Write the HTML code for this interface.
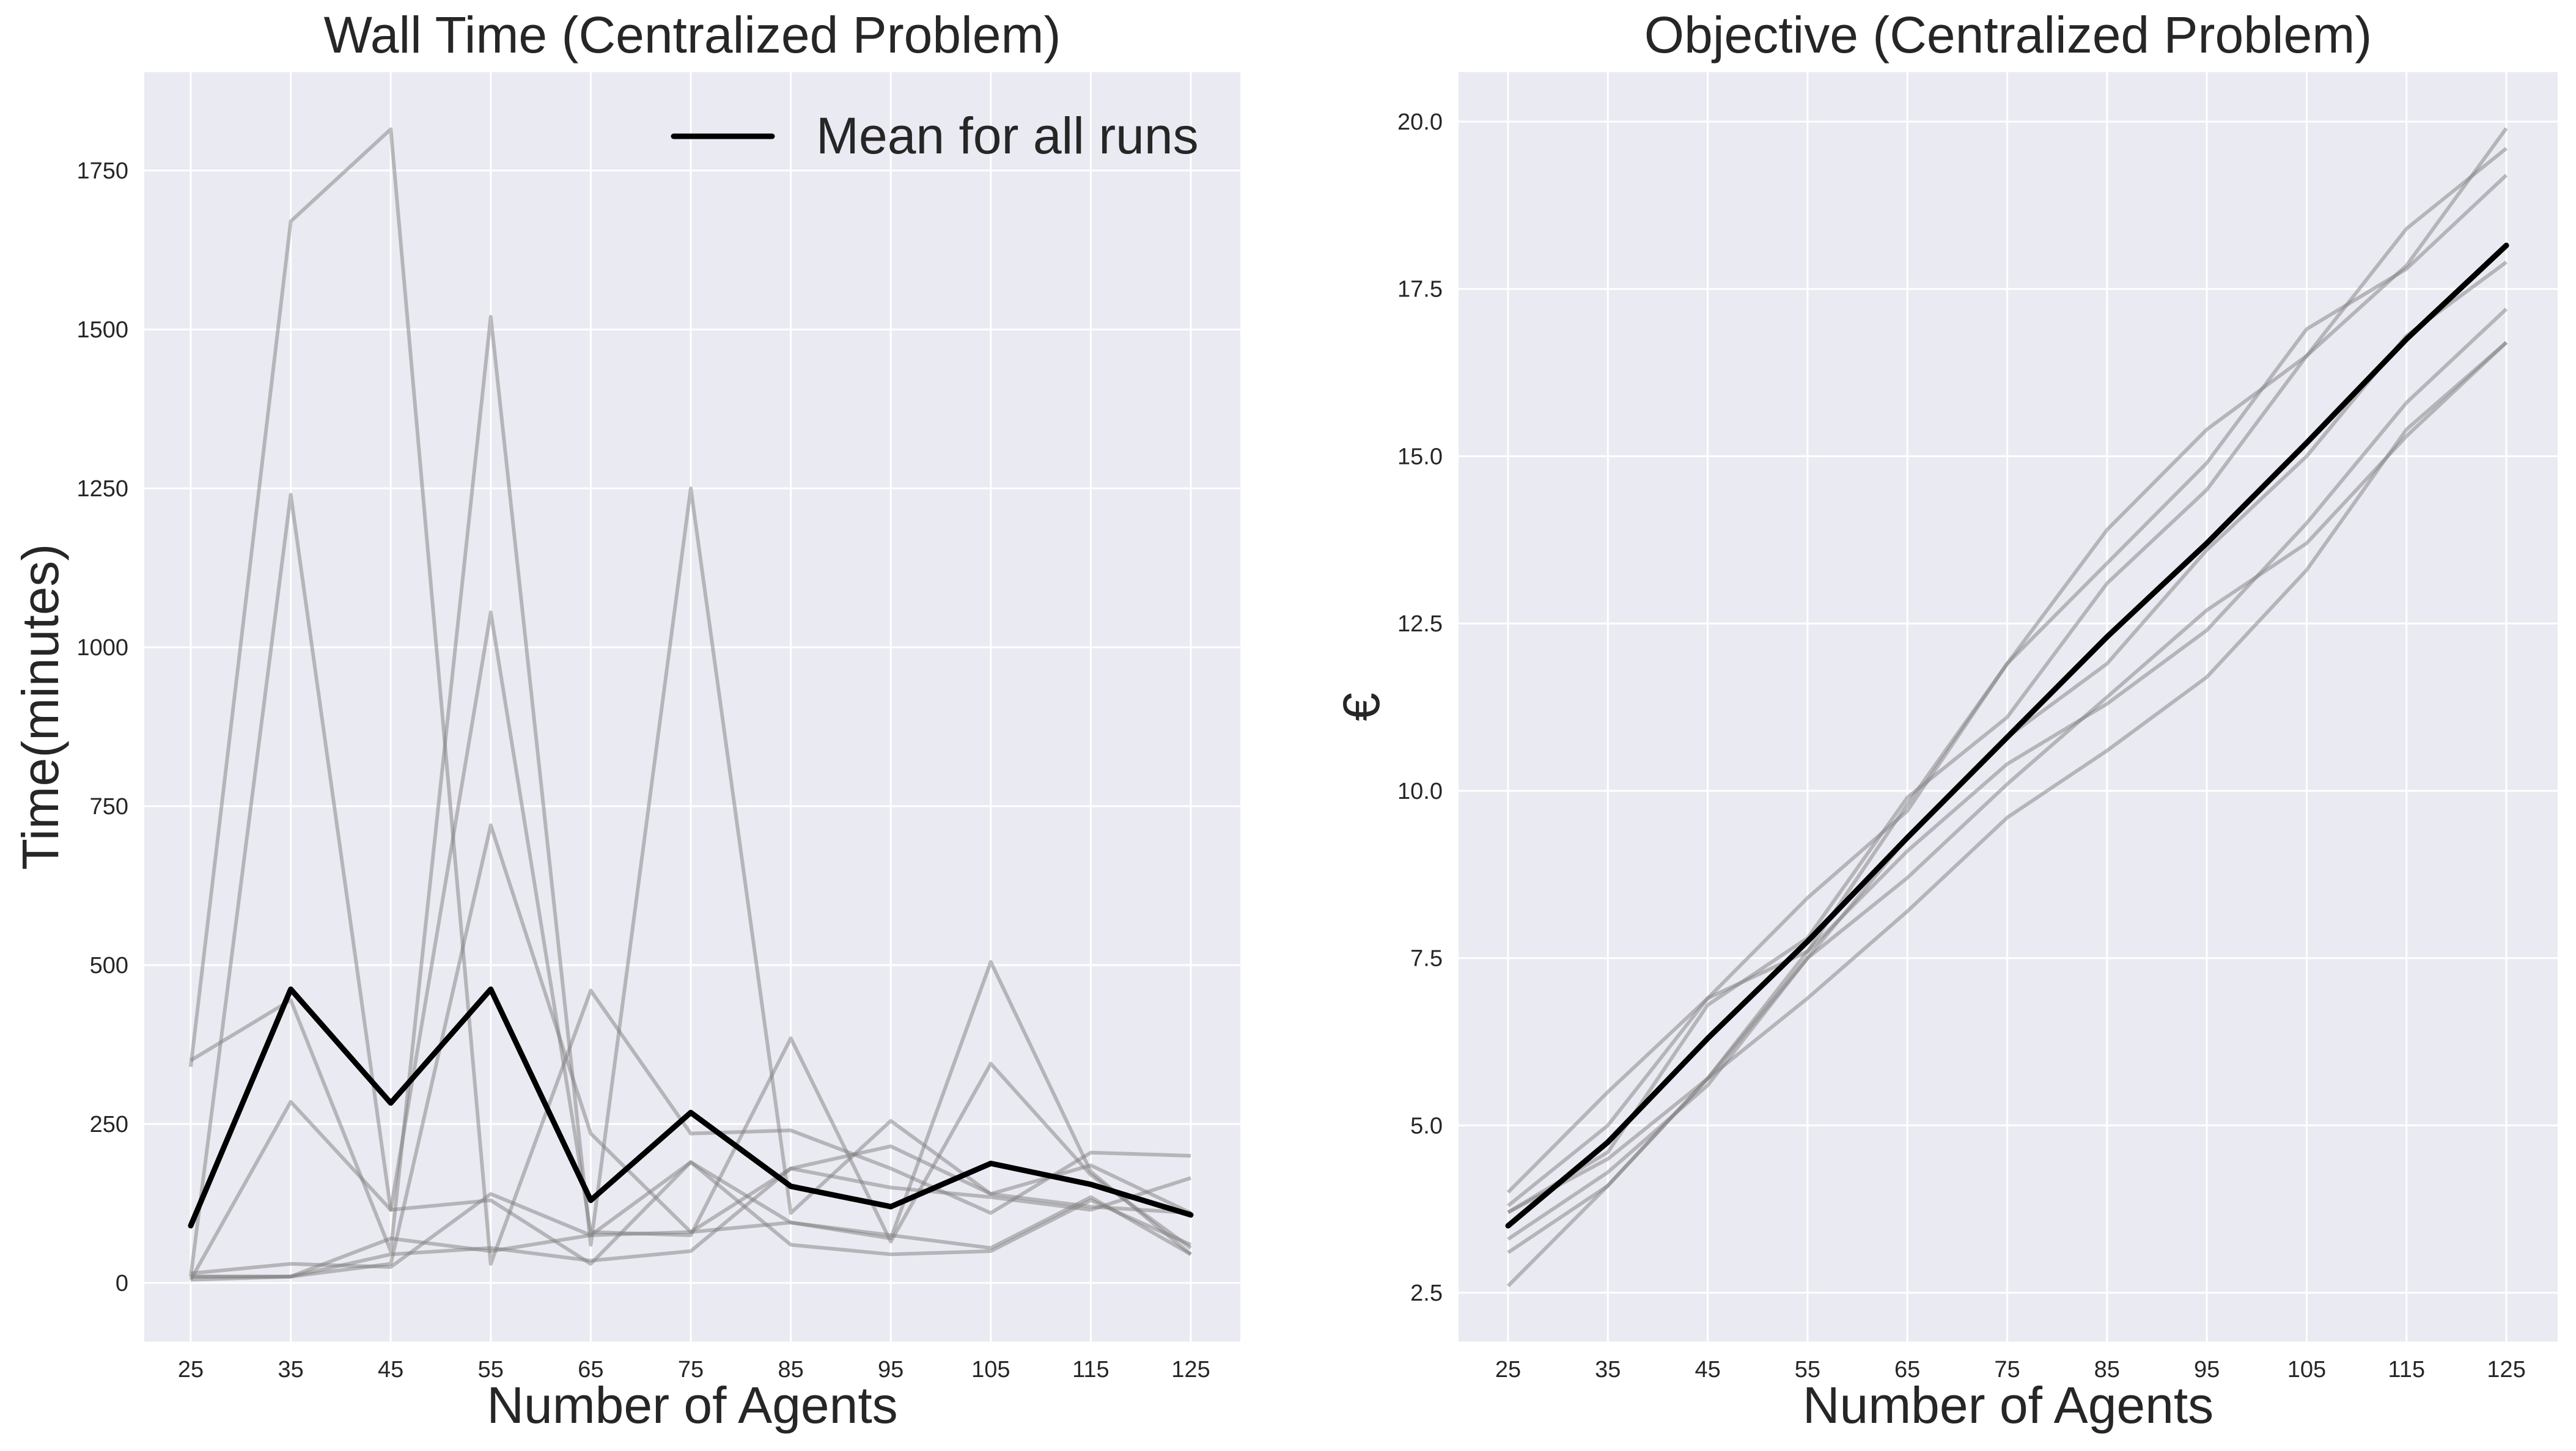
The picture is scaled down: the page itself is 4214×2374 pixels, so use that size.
<!DOCTYPE html>
<html><head><meta charset="utf-8"><style>
body{margin:0;background:#fff;}
svg{display:block;font-family:"Liberation Sans",sans-serif;}
</style></head><body>
<svg id="chart" width="4214" height="2374" viewBox="0 0 4214 2374" xmlns="http://www.w3.org/2000/svg"></svg>
<script>
const xCats = [25,35,45,55,65,75,85,95,105,115,125];
const leftTicks = [0,250,500,750,1000,1250,1500,1750];
const leftMean = [90,462,283,462,130,268,152,120,188,155,107];
const leftRunA = [340,1670,1815,30,460,235,240,180,110,205,200];
const leftRunB = [10,1240,115,130,30,190,95,70,505,175,45];
const leftRunC = [350,445,50,1520,60,1250,110,255,140,185,110];
const leftRunD = [5,285,115,1055,80,75,385,65,345,170,55];
const leftRunE = [10,10,30,720,235,80,180,215,140,120,110];
const leftRunF = [15,30,25,140,75,80,95,75,55,135,45];
const leftRunG = [5,10,70,50,75,190,60,45,50,130,60];
const leftRunH = [10,10,45,55,35,50,180,150,135,115,165];
const rightTicks = [2.5,5.0,7.5,10.0,12.5,15.0,17.5,20.0];
const rightMean = [3.5,4.75,6.3,7.75,9.3,10.8,12.3,13.7,15.2,16.75,18.15];
const rightRun1 = [4.0,5.5,6.9,8.4,9.7,11.9,13.9,15.4,16.5,17.85,19.9];
const rightRun2 = [3.8,5.0,6.9,7.6,9.8,11.9,13.4,14.9,16.9,17.8,19.2];
const rightRun3 = [3.7,4.6,6.8,7.8,9.9,11.1,13.1,14.5,16.5,18.4,19.6];
const rightRun4 = [3.3,4.3,5.6,7.5,9.3,10.8,11.9,13.6,15.0,16.8,17.9];
const rightRun5 = [3.1,4.1,5.7,7.6,9.1,10.4,11.3,12.4,14.0,15.8,17.2];
const rightRun6 = [2.6,4.1,5.7,6.9,8.2,9.6,10.6,11.7,13.3,15.4,16.7];
const rightRun7 = [3.7,4.5,5.7,7.5,8.7,10.1,11.4,12.7,13.7,15.3,16.7];

const NS="http://www.w3.org/2000/svg";
const svg=document.getElementById('chart');
function mk(tag,attrs,parent){const e=document.createElementNS(NS,tag);for(const k in attrs)e.setAttribute(k,attrs[k]);(parent||svg).appendChild(e);return e;}

function panel(o){
  const g=mk('g',{});
  
  
  const xs=v=>o.x0px+(v-25)/100*(o.x1px-o.x0px);
  const ys=v=>o.yA+(v-o.vA)*(o.yB-o.yA)/(o.vB-o.vA);
  const bg=mk('rect',{x:o.L,y:o.T,width:o.R-o.L,height:o.B-o.T,fill:'#eaeaf2'},g);
  
  
  xCats.forEach(c=>{
    const x=xs(c);
    mk('line',{x1:x,x2:x,y1:o.T,y2:o.B,stroke:'#fff','stroke-width':3},g);
    const t=mk('text',{x:x,y:o.B+58,'font-size':38,fill:'#262626','text-anchor':'middle'},g);
    t.textContent=c;
    
    
  });
  o.ticks.forEach(v=>{
    const y=ys(v);
    mk('line',{x1:o.L,x2:o.R,y1:y,y2:y,stroke:'#fff','stroke-width':3},g);
    const t=mk('text',{x:o.L-26,y:y+13,'font-size':38,fill:'#262626','text-anchor':'end'},g);
    t.textContent=o.fmt(v);
    
    
  });
  o.runs.forEach(r=>{
    const p=mk('polyline',{points:r.map((v,i)=>xs(xCats[i])+','+ys(v)).join(' '),fill:'none',stroke:'#808080','stroke-opacity':0.5,'stroke-width':6,'stroke-linejoin':'round'},g);
    
    
  });
  const m=mk('polyline',{points:o.mean.map((v,i)=>xs(xCats[i])+','+ys(v)).join(' '),fill:'none',stroke:'#000','stroke-width':9,'stroke-linejoin':'round','stroke-linecap':'round'},g);
  
  
  const tt=mk('text',{x:(o.L+o.R)/2,y:86,'font-size':84,fill:'#262626','text-anchor':'middle'},g);
  tt.textContent=o.title;
  
  
  const xl=mk('text',{x:(o.L+o.R)/2,y:2328,'font-size':84,fill:'#262626','text-anchor':'middle'},g);
  xl.textContent='Number of Agents';
  
  
  const yl=mk('text',{x:0,y:0,'font-size':84,fill:'#262626','text-anchor':'middle',transform:'translate('+o.ylx+','+((o.T+o.B)/2)+') rotate(-90)'},g);
  yl.textContent=o.ylabel;
  
  
  return g;
}

panel({name:'wall-time-chart',L:236,R:2029,T:118,B:2195,x0px:312,x1px:1948,yA:2099,vA:0,yB:279,vB:1750,
  ticks:leftTicks,fmt:v=>String(v),runs:[leftRunA,leftRunB,leftRunC,leftRunD,leftRunE,leftRunF,leftRunG,leftRunH],
  mean:leftMean,title:'Wall Time (Centralized Problem)',ylabel:'Time(minutes)',ylx:95});
panel({name:'objective-chart',L:2386,R:4184,T:118,B:2195,x0px:2467,x1px:4100,yA:2115,vA:2.5,yB:199,vB:20,
  ticks:rightTicks,fmt:v=>v.toFixed(1),runs:[rightRun1,rightRun2,rightRun3,rightRun4,rightRun5,rightRun6,rightRun7],
  mean:rightMean,title:'Objective (Centralized Problem)',ylabel:'€',ylx:2256});

const lg=mk('g',{});


mk('line',{x1:1102,x2:1263,y1:223,y2:223,stroke:'#000','stroke-width':9,'stroke-linecap':'round'},lg);
const lt=mk('text',{x:1335,y:251,'font-size':84,fill:'#262626'},lg);
lt.textContent='Mean for all runs';


</script>
</body></html>
